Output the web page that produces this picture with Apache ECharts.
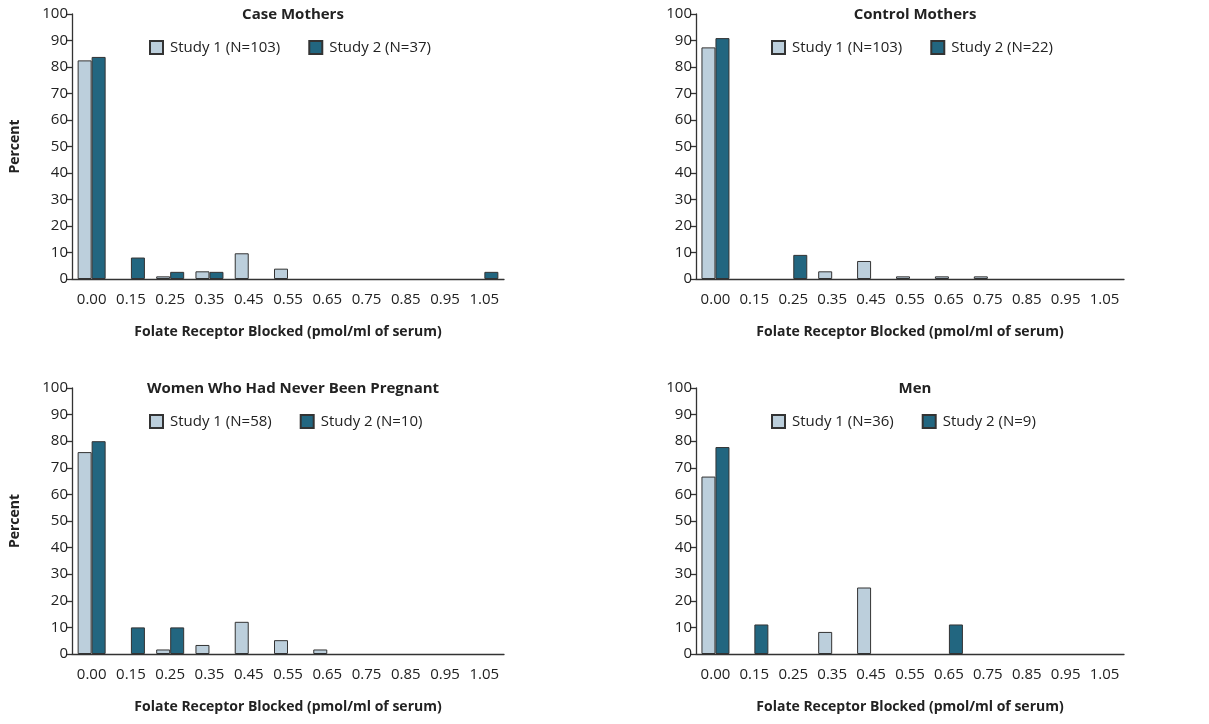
<!DOCTYPE html>
<html>
<head>
<meta charset="utf-8">
<script src="https://cdn.jsdelivr.net/npm/echarts@6/dist/echarts.min.js"></script>
<style>html,body{margin:0;padding:0;background:#fff}#c{width:1209px;height:724px}</style>
</head>
<body>
<div id="c"></div>
<script>
const categories = ['0.00','0.15','0.25','0.35','0.45','0.55','0.65','0.75','0.85','0.95','1.05'];
const panelTitles = ['Case Mothers','Control Mothers','Women Who Had Never Been Pregnant','Men'];
const study1Names = ['Study 1 (N=103)','Study 1 (N=103)','Study 1 (N=58)','Study 1 (N=36)'];
const study2Names = ['Study 2 (N=37)','Study 2 (N=22)','Study 2 (N=10)','Study 2 (N=9)'];
const caseStudy1 = [82.5,0,1.0,2.9,9.7,3.9,0,0,0,0,0];
const caseStudy2 = [83.8,8.1,2.7,2.7,0,0,0,0,0,0,2.7];
const controlStudy1 = [87.4,0,0,2.9,6.8,1.0,1.0,1.0,0,0,0];
const controlStudy2 = [90.9,0,9.1,0,0,0,0,0,0,0,0];
const womenStudy1 = [75.9,0,1.7,3.4,12.1,5.2,1.7,0,0,0,0];
const womenStudy2 = [80,10,10,0,0,0,0,0,0,0,0];
const menStudy1 = [66.7,0,0,8.3,25,0,0,0,0,0,0];
const menStudy2 = [77.8,11.1,0,0,0,0,11.1,0,0,0,0];
const yTicks = {min:0,max:100,interval:10};

const s1 = [caseStudy1, controlStudy1, womenStudy1, menStudy1];
const s2 = [caseStudy2, controlStudy2, womenStudy2, menStudy2];
const noZero = arr => arr.map(v => v === 0 ? null : v);

const FONT = 'Open Sans';
const light = '#bccfdc', dark = '#226680', edge = '#333';
const grids = [
  {left:72, top:14, width:432, height:265},
  {left:696, top:14, width:428, height:265},
  {left:72, top:388, width:432, height:266},
  {left:696, top:388, width:428, height:266}
];
const legendLeft = [144, 766, 144, 766];
const option = {
  animation:false,
  textStyle:{fontFamily:FONT},
  grid: grids,
  title: grids.map((g,i)=>({text:panelTitles[i], left:g.left+g.width/2, top:g.top-12, textAlign:'center',
    textStyle:{fontFamily:FONT,fontWeight:'bold',fontSize:15,color:'#222'}})),
  legend: grids.map((g,i)=>({data:[study1Names[i],study2Names[i]], left:legendLeft[i], top:g.top+21,
    itemWidth:13,itemHeight:13,itemGap:28, icon:'rect',
    textStyle:{fontFamily:FONT,fontSize:15,color:'#222',padding:[0,0,0,2]}})),
  xAxis: grids.map((g,i)=>({type:'category', gridIndex:i, data:categories,
    name:'Folate Receptor Blocked (pmol/ml of serum)', nameLocation:'middle', nameGap:46,
    nameTextStyle:{fontFamily:FONT,fontWeight:'bold',fontSize:14,color:'#222'},
    axisLine:{lineStyle:{color:edge,width:1.3}},
    axisTick:{alignWithLabel:true,length:6,lineStyle:{color:edge,width:1.3}},
    axisLabel:{fontFamily:FONT,fontSize:15,color:'#222',margin:13,interval:0}})),
  yAxis: grids.map((g,i)=>({type:'value', gridIndex:i, min:yTicks.min, max:yTicks.max, interval:yTicks.interval,
    name: (i%2===0)?'Percent':'', nameLocation:'middle', nameGap:50,
    nameTextStyle:{fontFamily:FONT,fontWeight:'bold',fontSize:14,color:'#222'},
    splitLine:{show:false},
    axisLine:{show:true,lineStyle:{color:edge,width:1.3}},
    axisTick:{show:true,length:6,lineStyle:{color:edge,width:1.3}},
    axisLabel:{fontFamily:FONT,fontSize:15,color:'#222',margin:4}})),
  series: []
};
for(let i=0;i<4;i++){
  option.series.push({type:'bar', name:study1Names[i], xAxisIndex:i, yAxisIndex:i, data:noZero(s1[i]),
    barWidth:14, barGap:'0%', itemStyle:{color:light, borderColor:edge, borderWidth:1}});
  option.series.push({type:'bar', name:study2Names[i], xAxisIndex:i, yAxisIndex:i, data:noZero(s2[i]),
    barWidth:14, barGap:'0%', itemStyle:{color:dark, borderColor:edge, borderWidth:1}});
}
const chart = echarts.init(document.getElementById('c'), null, {renderer:'canvas'});
chart.setOption(option);
</script>
</body>
</html>
